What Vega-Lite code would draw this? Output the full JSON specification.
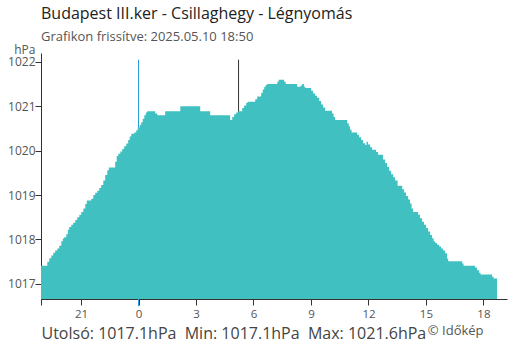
{
  "$schema": "https://vega.github.io/schema/vega-lite/v6.json",
  "width": 466,
  "height": 246,
  "autosize": {"type": "none"},
  "padding": {"left": 41, "top": 53, "right": 3, "bottom": 51},
  "background": "white",
  "config": {"view": {"stroke": null}, "font": "Open Sans"},
  "title": {
    "text": "Budapest III.ker - Csillaghegy - Légnyomás",
    "subtitle": "Grafikon frissítve: 2025.05.10 18:50",
    "anchor": "start",
    "frame": "group",
    "fontSize": 16,
    "fontWeight": "normal",
    "color": "#222222",
    "subtitleFontSize": 13,
    "subtitleColor": "#555555",
    "subtitlePadding": 9,
    "offset": -1
  },
  "datasets": {
    "pressure": [
      {"h": -5.09, "p": 1017.41}, {"h": -4.76, "p": 1017.50}, {"h": -4.66, "p": 1017.58}, {"h": -4.55, "p": 1017.64},
      {"h": -4.45, "p": 1017.70}, {"h": -4.35, "p": 1017.75}, {"h": -4.24, "p": 1017.80}, {"h": -4.14, "p": 1017.86},
      {"h": -4.03, "p": 1017.96}, {"h": -3.95, "p": 1018.02}, {"h": -3.88, "p": 1018.05}, {"h": -3.77, "p": 1018.12},
      {"h": -3.69, "p": 1018.22}, {"h": -3.62, "p": 1018.28}, {"h": -3.51, "p": 1018.33}, {"h": -3.41, "p": 1018.38},
      {"h": -3.30, "p": 1018.44}, {"h": -3.20, "p": 1018.50}, {"h": -3.09, "p": 1018.56}, {"h": -2.99, "p": 1018.62},
      {"h": -2.88, "p": 1018.70}, {"h": -2.78, "p": 1018.80}, {"h": -2.70, "p": 1018.88}, {"h": -2.47, "p": 1018.92},
      {"h": -2.36, "p": 1019.00}, {"h": -2.26, "p": 1019.05}, {"h": -2.15, "p": 1019.10}, {"h": -2.05, "p": 1019.16},
      {"h": -1.95, "p": 1019.23}, {"h": -1.84, "p": 1019.33}, {"h": -1.74, "p": 1019.45}, {"h": -1.63, "p": 1019.56},
      {"h": -1.55, "p": 1019.62}, {"h": -1.22, "p": 1019.75}, {"h": -1.14, "p": 1019.88}, {"h": -1.06, "p": 1019.93},
      {"h": -0.95, "p": 1019.98}, {"h": -0.85, "p": 1020.04}, {"h": -0.75, "p": 1020.10}, {"h": -0.64, "p": 1020.16},
      {"h": -0.54, "p": 1020.24}, {"h": -0.46, "p": 1020.32}, {"h": -0.38, "p": 1020.38}, {"h": -0.22, "p": 1020.41},
      {"h": -0.12, "p": 1020.46}, {"h": -0.04, "p": 1020.52}, {"h": 0.06, "p": 1020.58}, {"h": 0.14, "p": 1020.64},
      {"h": 0.22, "p": 1020.72}, {"h": 0.30, "p": 1020.80}, {"h": 0.38, "p": 1020.86}, {"h": 0.45, "p": 1020.89},
      {"h": 0.87, "p": 1020.84}, {"h": 0.98, "p": 1020.80}, {"h": 1.39, "p": 1020.89}, {"h": 2.18, "p": 1021.00},
      {"h": 3.22, "p": 1020.89}, {"h": 3.74, "p": 1020.80}, {"h": 4.78, "p": 1020.69}, {"h": 4.89, "p": 1020.76},
      {"h": 4.99, "p": 1020.82}, {"h": 5.10, "p": 1020.86}, {"h": 5.20, "p": 1020.89}, {"h": 5.41, "p": 1020.96},
      {"h": 5.51, "p": 1021.02}, {"h": 5.62, "p": 1021.08}, {"h": 5.70, "p": 1021.10}, {"h": 6.09, "p": 1021.16},
      {"h": 6.19, "p": 1021.22}, {"h": 6.40, "p": 1021.30}, {"h": 6.48, "p": 1021.38}, {"h": 6.56, "p": 1021.44},
      {"h": 6.64, "p": 1021.48}, {"h": 6.71, "p": 1021.50}, {"h": 7.24, "p": 1021.55}, {"h": 7.31, "p": 1021.60},
      {"h": 7.60, "p": 1021.55}, {"h": 7.68, "p": 1021.50}, {"h": 8.28, "p": 1021.44}, {"h": 8.46, "p": 1021.47},
      {"h": 8.54, "p": 1021.50}, {"h": 8.64, "p": 1021.44}, {"h": 8.70, "p": 1021.41}, {"h": 9.01, "p": 1021.35},
      {"h": 9.11, "p": 1021.29}, {"h": 9.22, "p": 1021.24}, {"h": 9.32, "p": 1021.19}, {"h": 9.43, "p": 1021.12},
      {"h": 9.53, "p": 1021.04}, {"h": 9.63, "p": 1020.97}, {"h": 9.74, "p": 1020.90}, {"h": 10.10, "p": 1020.84},
      {"h": 10.18, "p": 1020.76}, {"h": 10.26, "p": 1020.69}, {"h": 10.89, "p": 1020.62}, {"h": 10.97, "p": 1020.55},
      {"h": 11.04, "p": 1020.47}, {"h": 11.12, "p": 1020.41}, {"h": 11.41, "p": 1020.36}, {"h": 11.51, "p": 1020.30},
      {"h": 11.62, "p": 1020.24}, {"h": 11.72, "p": 1020.17}, {"h": 11.83, "p": 1020.13}, {"h": 11.90, "p": 1020.20},
      {"h": 11.98, "p": 1020.14}, {"h": 12.09, "p": 1020.08}, {"h": 12.19, "p": 1020.02}, {"h": 12.40, "p": 1019.97},
      {"h": 12.50, "p": 1019.91}, {"h": 12.76, "p": 1019.80}, {"h": 12.87, "p": 1019.72}, {"h": 12.97, "p": 1019.63},
      {"h": 13.08, "p": 1019.55}, {"h": 13.18, "p": 1019.47}, {"h": 13.29, "p": 1019.40}, {"h": 13.39, "p": 1019.33},
      {"h": 13.52, "p": 1019.21}, {"h": 13.76, "p": 1019.13}, {"h": 13.86, "p": 1019.06}, {"h": 13.96, "p": 1018.98},
      {"h": 14.07, "p": 1018.90}, {"h": 14.17, "p": 1018.81}, {"h": 14.25, "p": 1018.70}, {"h": 14.33, "p": 1018.62},
      {"h": 14.59, "p": 1018.56}, {"h": 14.69, "p": 1018.48}, {"h": 14.80, "p": 1018.40}, {"h": 14.90, "p": 1018.33},
      {"h": 15.01, "p": 1018.26}, {"h": 15.11, "p": 1018.18}, {"h": 15.22, "p": 1018.10}, {"h": 15.32, "p": 1018.03},
      {"h": 15.40, "p": 1017.96}, {"h": 15.48, "p": 1017.92}, {"h": 15.58, "p": 1017.88}, {"h": 15.69, "p": 1017.84},
      {"h": 15.79, "p": 1017.80}, {"h": 15.89, "p": 1017.75}, {"h": 16.00, "p": 1017.69}, {"h": 16.10, "p": 1017.57},
      {"h": 16.16, "p": 1017.51}, {"h": 16.89, "p": 1017.46}, {"h": 16.96, "p": 1017.41}, {"h": 17.56, "p": 1017.37},
      {"h": 17.67, "p": 1017.31}, {"h": 17.77, "p": 1017.25}, {"h": 17.85, "p": 1017.21}, {"h": 18.45, "p": 1017.16},
      {"h": 18.53, "p": 1017.12}, {"h": 18.71, "p": 1017.12}
    ],
    "midnight": [{"h": 0}],
    "sunrise": [{"h": 5.22}],
    "labels": [{"label": "© Időkép", "h": 15.1, "p": 1015.93}]
  },
  "layer": [
    {
      "data": {"name": "midnight"},
      "mark": {"type": "rule", "color": "#2a9de0", "strokeWidth": 1},
      "encoding": {
        "x": {"field": "h", "type": "quantitative"},
        "y": {"datum": 1022.05, "type": "quantitative"},
        "y2": {"datum": 1016.5}
      }
    },
    {
      "data": {"name": "sunrise"},
      "mark": {"type": "rule", "color": "#333333", "strokeWidth": 1},
      "encoding": {
        "x": {"field": "h", "type": "quantitative"},
        "y": {"datum": 1022.05, "type": "quantitative"},
        "y2": {"datum": 1016.66}
      }
    },
    {
      "data": {"name": "pressure"},
      "mark": {"type": "area", "interpolate": "step-after", "color": "#41c0c1", "clip": true},
      "encoding": {
        "x": {
          "field": "h",
          "type": "quantitative",
          "scale": {"domain": [-5.09, 19.23], "nice": false, "zero": false},
          "axis": {
            "values": [-5.09, -3, 0, 3, 6, 9, 12, 15, 18],
            "labelExpr": "datum.value < -4 ? '' : '' + ((datum.value + 24) % 24)",
            "grid": false,
            "domainColor": "#333333",
            "tickColor": "#333333",
            "tickSize": 6,
            "labelFontSize": 11.5,
            "labelColor": "#555555",
            "labelPadding": 3,
            "title": "Utolsó: 1017.1hPa\u00a0\u00a0Min: 1017.1hPa\u00a0\u00a0Max: 1021.6hPa",
            "titleAnchor": "start",
            "titleAlign": "left",
            "titleBaseline": "alphabetic",
            "titleFontSize": 16,
            "titleFontWeight": "normal",
            "titleColor": "#444444",
            "titleX": 0,
            "titleY": 39
          }
        },
        "y": {
          "field": "p",
          "type": "quantitative",
          "scale": {"domain": [1016.66, 1022.2], "nice": false, "zero": false},
          "axis": {
            "values": [1017, 1018, 1019, 1020, 1021, 1022],
            "format": "d",
            "grid": false,
            "domainColor": "#333333",
            "tickColor": "#333333",
            "tickSize": 6,
            "labelFontSize": 12,
            "labelColor": "#555555",
            "labelPadding": 0,
            "title": "hPa",
            "titleAngle": 0,
            "titleAlign": "right",
            "titleBaseline": "alphabetic",
            "titleFontSize": 12,
            "titleFontWeight": "normal",
            "titleColor": "#555555",
            "titleX": -6,
            "titleY": 0
          }
        },
        "y2": {"datum": 1016.66}
      }
    },
    {
      "data": {"name": "labels"},
      "mark": {"type": "text", "align": "left", "baseline": "middle", "fontSize": 13, "color": "#555555"},
      "encoding": {
        "x": {"field": "h", "type": "quantitative"},
        "y": {"field": "p", "type": "quantitative"},
        "text": {"field": "label"}
      }
    }
  ]
}
